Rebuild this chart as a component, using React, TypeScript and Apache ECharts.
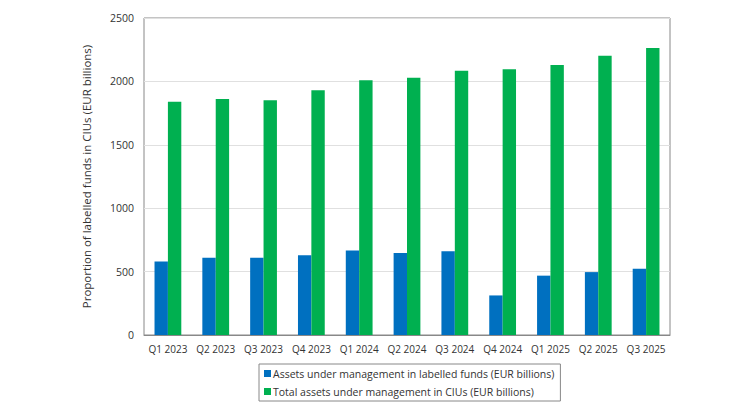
import { useEffect, useRef } from "react";
import * as echarts from "echarts";

const quarters = [
  "Q1 2023", "Q2 2023", "Q3 2023", "Q4 2023", "Q1 2024", "Q2 2024",
  "Q3 2024", "Q4 2024", "Q1 2025", "Q2 2025", "Q3 2025",
];
const labelledAum = [580, 610, 610, 628, 667, 646, 660, 312, 468, 496, 523];
const totalCiuAum = [1839, 1862, 1852, 1931, 2010, 2028, 2084, 2095, 2129, 2202, 2263];
const yTicks = [0, 500, 1000, 1500, 2000, 2500];

const FONT = "'Open Sans', 'Noto Sans', sans-serif";

export default function App() {
  const ref = useRef<HTMLDivElement>(null);

  useEffect(() => {
    document.body.style.margin = "0";
    if (!ref.current) return;
    const chart = echarts.init(ref.current, null, { renderer: "svg" });
    chart.setOption({
      animation: false,
      backgroundColor: "#fff",
      textStyle: { fontFamily: FONT },
      grid: {
        left: 144, right: 60, top: 18, bottom: 75,
        show: true, borderColor: "#888", borderWidth: 1,
      },
      legend: {
        orient: "vertical",
        left: 259,
        top: 364,
        width: 299,
        padding: [4, 6, 4, 5],
        borderColor: "#888",
        borderWidth: 1,
        itemWidth: 7,
        itemHeight: 7,
        itemGap: 7,
        icon: "rect",
        textStyle: { color: "#333", fontSize: 10.5, fontFamily: FONT, padding: [0, 0, 0, -3] },
      },
      xAxis: {
        type: "category",
        data: quarters,
        axisLine: { lineStyle: { color: "#888" } },
        axisTick: { show: false },
        axisLabel: { color: "#333", fontSize: 10, margin: 9, interval: 0 },
      },
      yAxis: {
        type: "value",
        min: yTicks[0],
        max: yTicks[yTicks.length - 1],
        interval: 500,
        name: "Proportion of labelled funds in CIUs (EUR billions)",
        nameLocation: "middle",
        nameGap: 52,
        nameTextStyle: { color: "#333", fontSize: 11.5 },
        axisLine: { show: false },
        axisTick: { show: false },
        axisLabel: { color: "#333", fontSize: 10.5, margin: 10, formatter: (v: number) => String(v) },
        splitLine: { lineStyle: { color: "#e0e0e0" } },
      },
      series: [
        {
          name: "Assets under management in labelled funds (EUR billions)",
          type: "bar",
          data: labelledAum,
          barGap: "0%",
          barCategoryGap: "44%",
          itemStyle: { color: "#0070C0" },
        },
        {
          name: "Total assets under management in CIUs (EUR billions)",
          type: "bar",
          data: totalCiuAum,
          barGap: "0%",
          barCategoryGap: "44%",
          itemStyle: { color: "#00B050" },
        },
      ],
    });
    return () => chart.dispose();
  }, []);

  return <div ref={ref} style={{ width: 730, height: 410 }} />;
}
